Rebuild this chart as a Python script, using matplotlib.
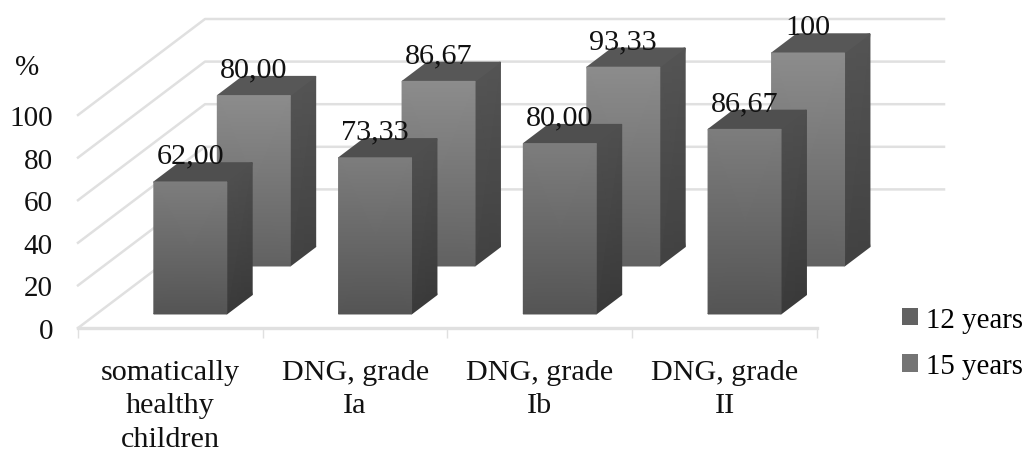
#!/usr/bin/env python
import numpy as np
import matplotlib
matplotlib.use("Agg")
import matplotlib.pyplot as plt
from matplotlib.patches import Patch

plt.rcParams['font.family'] = ['Liberation Serif', 'DejaVu Serif']

categories = ['somatically\nhealthy\nchildren', 'DNG, grade\nIa', 'DNG, grade\nIb', 'DNG, grade\nII']
values_12 = [62.00, 73.33, 80.00, 86.67]
values_15 = [80.00, 86.67, 93.33, 100]
labels_12 = ['62,00', '73,33', '80,00', '86,67']
labels_15 = ['80,00', '86,67', '93,33', '100']
y_ticks = [0, 20, 40, 60, 80, 100]

# oblique depth: one unit of depth moves this far in data units
DEPTH_X = 127 / 184.75
DEPTH_Y = 96 / 2.13
BAR_LEFT = 0.31
BAR_WIDTH = 0.395
BAR_DEPTH = 0.2
FONT = 21.7
TICK_FONT = 21
GRID = '#e0e0e0'


def proj(x, v, d):
    return x + d * DEPTH_X, v + d * DEPTH_Y


def face(ax, p00, p10, p01, p11, bottom, top, z):
    # p00/p10 lower edge, p01/p11 upper edge, gradient from bottom to top
    X = np.array([[p00[0], p10[0]], [p01[0], p11[0]]])
    Y = np.array([[p00[1], p10[1]], [p01[1], p11[1]]])
    C = np.array([[bottom, bottom], [top, top]])
    ax.pcolormesh(X, Y, C, shading='gouraud', cmap='gray', vmin=0, vmax=1,
                  clip_on=False, zorder=z)


def bar(ax, x, v, d, front, side, roof, z):
    x1 = x + BAR_WIDTH
    d1 = d + BAR_DEPTH
    face(ax, proj(x1, 0, d), proj(x1, 0, d1), proj(x1, v, d), proj(x1, v, d1), side[0], side[1], z)
    face(ax, proj(x, v, d), proj(x1, v, d), proj(x, v, d1), proj(x1, v, d1), roof, roof, z)
    face(ax, proj(x, 0, d), proj(x1, 0, d), proj(x, v, d), proj(x1, v, d), front[0], front[1], z)


fig = plt.figure(figsize=(10.25, 4.52), dpi=100)
ax = fig.add_axes([78 / 1025, 1 - 329 / 452, 739 / 1025, 213 / 452])
n = len(categories)

# walls
for t in y_ticks[1:]:
    xb, yb = proj(0, t, 1)
    xe, ye = proj(n, t, 1)
    ax.plot([0, xb, xe], [t, yb, ye], color=GRID, lw=1.8, clip_on=False, zorder=1)
xb, yb = proj(0, 0, 1)
ax.plot([0, xb], [0, yb], color=GRID, lw=1.8, clip_on=False, zorder=1)
ax.plot([0, n], [0, 0], color=GRID, lw=2.4, clip_on=False, zorder=1)

# back row first, front row paints over it
for i, v in enumerate(values_15):
    bar(ax, i + BAR_LEFT, v, 0.646, (0.38, 0.55), (0.26, 0.33), 0.34, 2)
for i, v in enumerate(values_12):
    bar(ax, i + BAR_LEFT, v, 0.146, (0.33, 0.49), (0.23, 0.31), 0.31, 3)

for i in range(n):
    x_mid = i + BAR_LEFT + BAR_WIDTH / 2
    px, _ = proj(x_mid, 0, 0.646)
    _, py = proj(0, values_15[i], 0.846)
    ax.text(px, py, labels_15[i], fontsize=FONT, ha='center', va='baseline', color='#111111', zorder=5)
    px, _ = proj(x_mid, 0, 0.146)
    _, py = proj(0, values_12[i], 0.346)
    ax.text(px, py, labels_12[i], fontsize=FONT, ha='center', va='baseline', color='#111111', zorder=5)

ax.set_xlim(0, n)
ax.set_ylim(0, 100)
for s in ax.spines.values():
    s.set_visible(False)
ax.patch.set_visible(False)

ax.set_yticks(y_ticks)
ax.tick_params(axis='y', length=0, pad=18, labelsize=TICK_FONT, labelcolor='#111111')
ax.set_xticks(range(n + 1))
ax.set_xticklabels([])
ax.set_xticks(np.arange(n) + 0.5, minor=True)
ax.set_xticklabels(categories, minor=True, fontsize=FONT, color='#111111', linespacing=1.38)
ax.tick_params(axis='x', which='major', length=7, width=1, color=GRID)
ax.tick_params(axis='x', which='minor', length=0, pad=22)

fig.text(27 / 1025, 1 - 68 / 452, '%', fontsize=TICK_FONT, ha='center', va='center', color='#111111')

handles = [Patch(facecolor='#626262', label='12 years'), Patch(facecolor='#747474', label='15 years')]
fig.legend(handles=handles, loc='upper left', bbox_to_anchor=(902 / 1025, 1 - 308 / 452),
           frameon=False, fontsize=20.8, handlelength=0.55, handleheight=0.55,
           handletextpad=0.27, labelspacing=0.7, borderpad=0, borderaxespad=0)

fig.savefig('out.png', dpi=100)
plt.close(fig)
